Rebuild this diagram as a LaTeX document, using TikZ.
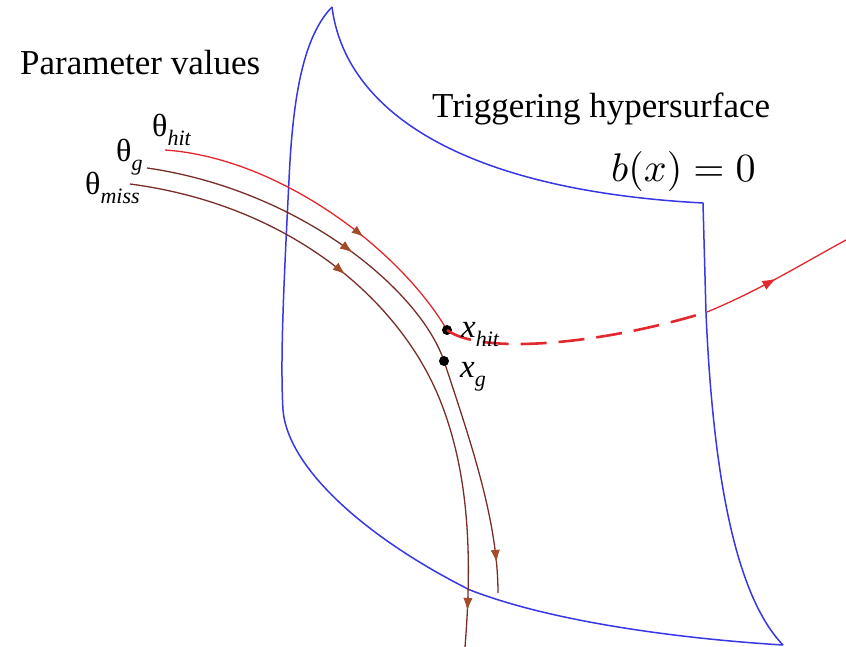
\documentclass[tikz,border=0pt]{standalone}
\usepackage{graphicx}
\usepackage{fontspec}
\setmainfont{Liberation Serif}
\usetikzlibrary{arrows.meta, decorations.markings}
\definecolor{surfblue}{RGB}{55,55,230}
\definecolor{hitred}{RGB}{228,38,45}
\definecolor{trajbrown}{RGB}{120,45,38}
\definecolor{tipbrown}{RGB}{165,75,40}
\newcommand{\lbsub}[1]{\raisebox{-0.28em}{\fontsize{22}{22}\selectfont\itshape #1}}

\begin{document}
\begin{tikzpicture}[x=1pt, y=-1pt,
        surface/.style={draw=surfblue, line width=1.5pt, line join=round},
        traj/.style={draw=trajbrown, line width=1.3pt},
        hittraj/.style={draw=hitred, line width=1.3pt},
        tipat/.style={postaction={decorate}, decoration={markings,
                      mark=at position #1 with {\arrow[tipbrown]{Latex[length=12pt,width=9pt]}}}},
        redtipat/.style={postaction={decorate}, decoration={markings,
                      mark=at position #1 with {\arrow[hitred]{Latex[length=14pt,width=10pt]}}}},
        dot/.style={circle, fill=black, inner sep=0pt, minimum size=10pt},
        label/.style={font=\fontsize{32}{36}\selectfont, inner sep=0pt, anchor=base west},
        title/.style={font=\fontsize{35}{40}\selectfont, inner sep=0pt, anchor=base west}
    ]
        \useasboundingbox (0,0) rectangle (846,647);

        \coordinate (peak) at (332,7);
        \coordinate (tr) at (703,203);
        \coordinate (br) at (783,645);
        \path [surface] (peak) .. controls (305,35) and (293,90) .. (289,180)
            .. controls (284,280) and (280,360) .. (283,410)
            .. controls (288,470) and (370,540) .. (470,590)
            .. controls (560,625) and (700,640) .. (br);
        \path [surface] (peak) .. controls (345,110) and (460,190) .. (tr);
        \path [surface] (tr) -- (706,313) .. controls (712,450) and (730,590) .. (br);

        \node [title] (trig) at (432,118) {Triggering hypersurface};
        \node [inner sep=0pt, anchor=base west] (beq) at (611,182) {\scalebox{4}{$b(x)=0$}};
        \node [title] (param) at (20,75) {Parameter values};

        \node [label] (thhit) at (152,137) {θ\lbsub{hit}};
        \node [label] (thg) at (116,162) {θ\lbsub{g}};
        \node [label] (thmiss) at (85,195) {θ\lbsub{miss}};

        \path [traj, tipat=236pt, tipat=-37pt] (130,184) .. controls (290,205) and (400,300) .. (440,400)
            .. controls (470,475) and (472,560) .. (465,647);
        \path [traj, tipat=224pt, tipat=-31pt] (147,168) .. controls (300,190) and (420,290) .. (444,361)
            .. controls (470,440) and (498,520) .. (498,593);
        \path [hittraj, tipat=220pt] (165,150) .. controls (280,158) and (400,250) .. (447,330);

        \node [dot] (xhit) at (447,330) {};
        \node [dot] (xg) at (444,361) {};
        \coordinate (cross) at (707,312);
        \coordinate (exit) at (846,240);

        \path [draw=hitred, line width=2.6pt, dash pattern=on 26pt off 12pt]
            (xhit.center) .. controls (480,355) and (600,345) .. (cross);
        \path [hittraj, redtipat=77pt] (cross) .. controls (760,290) and (800,265) .. (exit);

        \node [label, font=\fontsize{33}{36}\selectfont\itshape] (lxhit) at (461,337) {x\lbsub{hit}};
        \node [label, font=\fontsize{33}{36}\selectfont\itshape] (lxg) at (460,377) {x\lbsub{g}};
    \end{tikzpicture}
\end{document}
